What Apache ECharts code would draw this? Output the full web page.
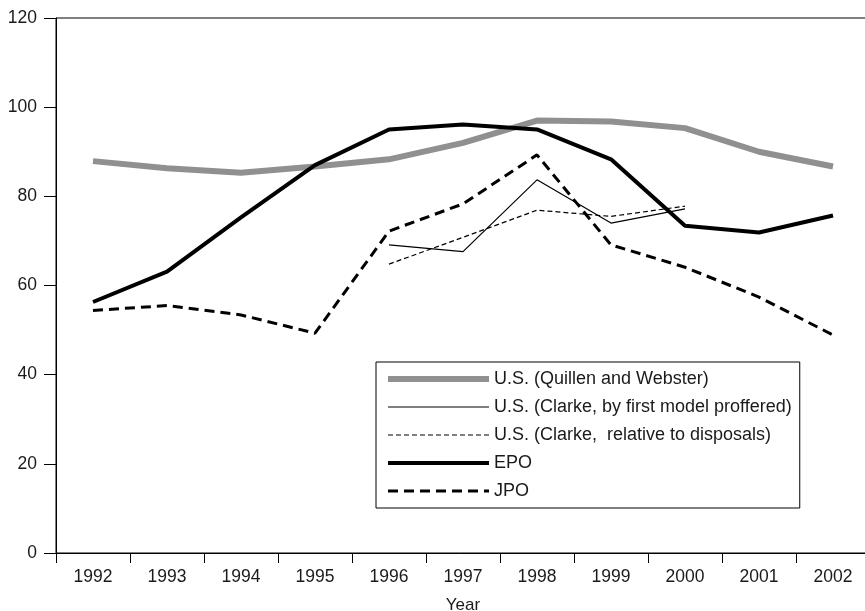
<!DOCTYPE html>
<html>
<head>
<meta charset="utf-8">
<script src="https://cdn.jsdelivr.net/npm/echarts@6/dist/echarts.min.js"></script>
<style>html,body{margin:0;padding:0;background:#fff}#c{width:865px;height:611px}</style>
</head>
<body>
<div id="c"></div>
<script>
const years = ['1992','1993','1994','1995','1996','1997','1998','1999','2000','2001','2002'];
const usQuillen = [87.9, 86.3, 85.3, 86.7, 88.3, 92.0, 97.0, 96.8, 95.3, 90.0, 86.7];
const usClarkeFirst = [null, null, null, null, 69.1, 67.6, 83.7, 74.0, 77.2, null, null];
const usClarkeDisposals = [null, null, null, null, 64.8, 70.8, 76.9, 75.5, 77.8, null, null];
const epo = [56.3, 63.1, 75.3, 87.0, 95.0, 96.1, 95.0, 88.3, 73.4, 71.9, 75.7];
const jpo = [54.4, 55.5, 53.4, 49.3, 72.2, 78.3, 89.3, 69.1, 64.1, 57.4, 48.9];
const yTicks = {min: 0, max: 120, step: 20};

const font = 'Liberation Sans, Arial, Helvetica, sans-serif';
const styles = {
  'U.S. (Quillen and Webster)': {color: '#909090', width: 6, type: 'solid', z: 2},
  'U.S. (Clarke, by first model proffered)': {color: '#000', width: 1.2, type: 'solid', z: 3},
  'U.S. (Clarke,  relative to disposals)': {color: '#000', width: 1.2, type: [5, 3], z: 3},
  'EPO': {color: '#000', width: 4, type: 'solid', z: 4},
  'JPO': {color: '#000', width: 3, type: [10, 6], z: 4}
};
const seriesData = [
  ['U.S. (Quillen and Webster)', usQuillen],
  ['U.S. (Clarke, by first model proffered)', usClarkeFirst],
  ['U.S. (Clarke,  relative to disposals)', usClarkeDisposals],
  ['EPO', epo],
  ['JPO', jpo]
];
const chart = echarts.init(document.getElementById('c'), null, {renderer: 'canvas'});
chart.setOption({
  animation: false,
  backgroundColor: '#fff',
  grid: {left: 56, top: 18, right: -5, bottom: 58, show: true, borderColor: '#000', borderWidth: 1,
    backgroundColor: 'transparent', containLabel: false, outerBoundsMode: 'none'},
  xAxis: {
    type: 'category', data: years, boundaryGap: true,
    name: 'Year', nameLocation: 'middle', nameGap: 44,
    nameTextStyle: {fontFamily: font, fontSize: 17, color: '#1a1a1a'},
    axisLine: {lineStyle: {color: '#000', width: 1}},
    axisTick: {show: true, inside: false, length: 10, alignWithLabel: false, lineStyle: {color: '#000', width: 1}},
    axisLabel: {fontFamily: font, fontSize: 17.5, color: '#1a1a1a', margin: 15},
    splitLine: {show: false}
  },
  yAxis: {
    type: 'value', min: yTicks.min, max: yTicks.max, interval: yTicks.step,
    axisLine: {show: true, lineStyle: {color: '#000', width: 1}},
    axisTick: {show: true, inside: false, length: 12, lineStyle: {color: '#000', width: 1}},
    axisLabel: {fontFamily: font, fontSize: 17.5, color: '#1a1a1a', margin: 19},
    splitLine: {show: false}
  },
  legend: {
    orient: 'vertical', left: 376, top: 362,
    backgroundColor: '#fff', borderColor: '#000', borderWidth: 1,
    padding: [8, 8, 8, 9],
    itemWidth: 101, itemHeight: 14, itemGap: 10,
    textStyle: {fontFamily: font, fontSize: 18, color: '#1a1a1a'},
    data: seriesData.map(([name]) => ({
      name,
      itemStyle: {opacity: 0},
      lineStyle: {color: styles[name].color, width: styles[name].width, type: styles[name].type}
    }))
  },
  series: seriesData.map(([name, data]) => ({
    name, type: 'line', data, symbol: 'none', smooth: false, z: styles[name].z,
    connectNulls: false,
    lineStyle: {color: styles[name].color, width: styles[name].width, type: styles[name].type},
    itemStyle: {color: styles[name].color}
  }))
});
</script>
</body>
</html>
